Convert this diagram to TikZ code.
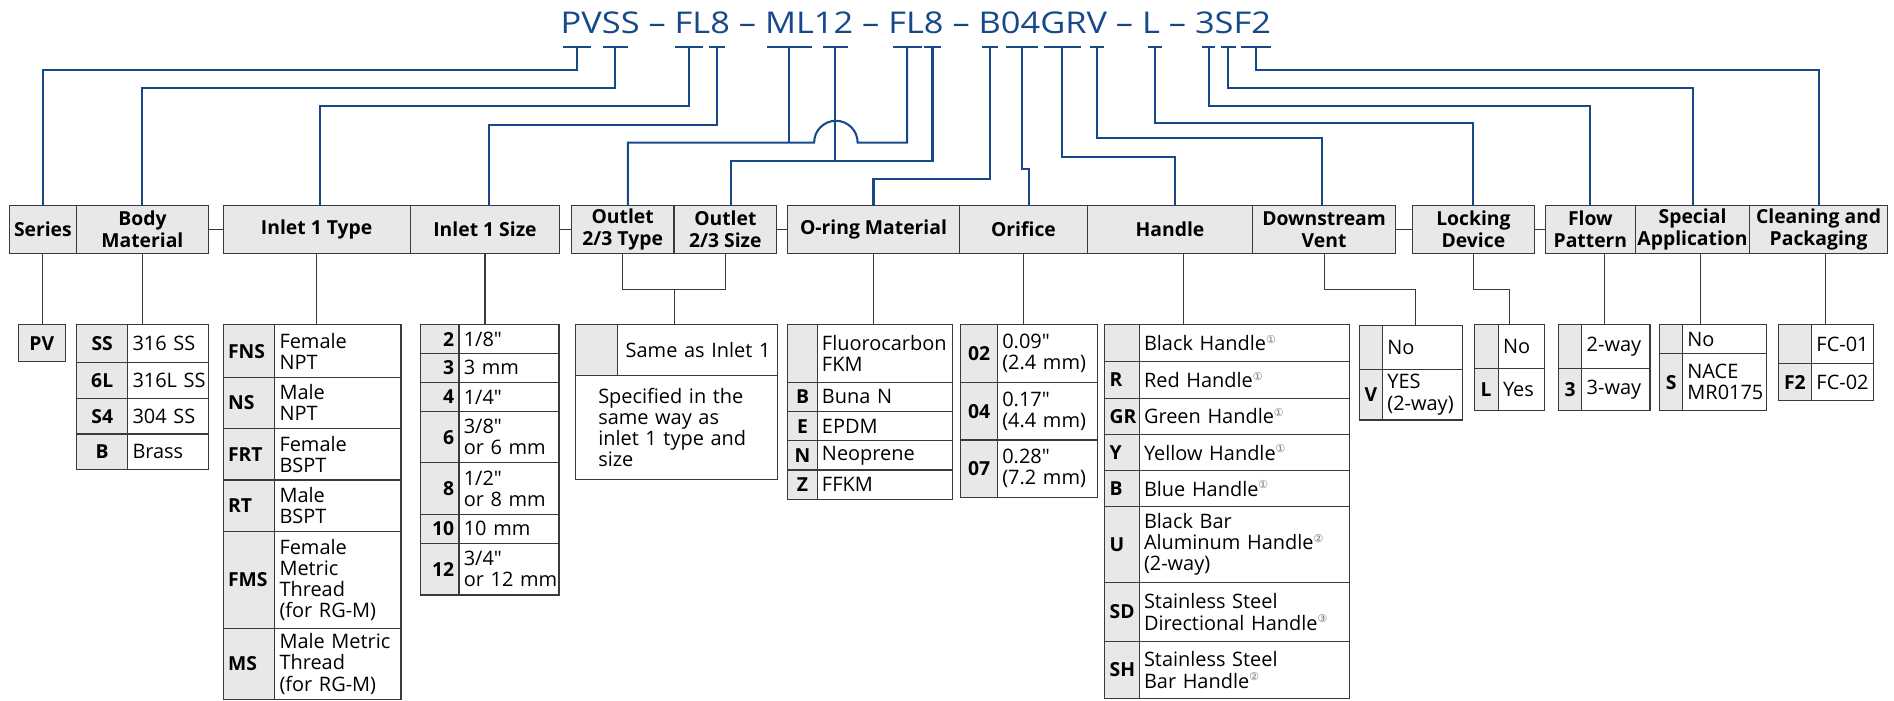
\documentclass[tikz,border=0pt]{standalone}
\usepackage{fontspec}
\setmainfont{Open Sans}[Ligatures=TeXOff]
\newfontfamily\dejavu{DejaVu Sans}
\definecolor{blu}{HTML}{17498A}
\definecolor{bord}{HTML}{3A3A3A}
\definecolor{gfill}{HTML}{E7E8EA}
\newcommand\cnum[1]{\raisebox{6pt}{\fontsize{9}{9}\selectfont\dejavu\color{black!55}#1}}
\newcommand\trow[9]{%
  \pgfmathsetmacro\tcwt{#3-#2-8}%
  \pgfmathsetmacro\tdw{#4-#3-8}%
  \pgfmathsetmacro\trh{#6-#5}%
  \node[codec, text width=\tcwt pt, align=#9, minimum height=\trh pt] (#1c) at ({(#2+#3)/2},{(#5+#6)/2}) {#7};
  \node[descc, text width=\tdw pt, minimum height=\trh pt] (#1d) at ({(#3+#4)/2},{(#5+#6)/2}) {#8};
}
\newcommand\tick[3]{%
  \coordinate (#1) at ({(#2+#3)/2},39);
  \draw[bl] (#2,39) -- (#3,39);
}
\begin{document}
\begin{tikzpicture}[x=1pt,y=-1pt,
  font=\fontsize{16.5}{17.5}\selectfont,
  hdr/.style={draw=bord, fill=gfill, line width=0.9pt, font=\fontsize{16}{18}\selectfont\bfseries, align=center, inner sep=0pt, minimum height=40pt},
  codec/.style={draw=bord, fill=gfill, line width=0.9pt, font=\fontsize{16}{17.5}\selectfont\bfseries, inner xsep=4pt, inner ysep=0pt},
  descc/.style={draw=bord, fill=white, line width=0.9pt, inner xsep=4pt, inner ysep=0pt, align=left},
  bl/.style={draw=blu, line width=1.7pt},
  kl/.style={draw=bord, line width=0.9pt}]
\useasboundingbox (0,0) rectangle (1568,580);

% ---------- title ----------
\node[anchor=base west, inner sep=0pt, text=blu] (title) at (464,27.6)
  {\resizebox{588pt}{18pt}{PVSS – FL8 – ML12 – FL8 – B04GRV – L – 3SF2}};

% ---------- header row ----------
\node[hdr, minimum width=56pt]    (ser)   at (35.5,190)   {Series};
\node[hdr, minimum width=108.8pt] (body)  at (117.9,190)  {Body\\Material};
\node[hdr, minimum width=154.7pt] (itype) at (262.15,190) {Inlet 1 Type};
\node[hdr, minimum width=124pt]   (isize) at (401.5,190)  {Inlet 1 Size};
\node[hdr, minimum width=85pt]    (otype) at (515.5,190)  {Outlet\\2/3 Type};
\node[hdr, minimum width=85pt]    (osize) at (600.5,190)  {Outlet\\2/3 Size};
\node[hdr, minimum width=141.7pt] (oring) at (723.15,190) {O-ring Material};
\node[hdr, minimum width=106.6pt] (orif)  at (847.3,190)  {Orifice};
\node[hdr, minimum width=136.1pt] (hndl)  at (968.65,190) {Handle};
\node[hdr, minimum width=118.9pt] (vent)  at (1096.15,190){Downstream\\Vent};
\node[hdr, minimum width=100.8pt] (lock)  at (1219.8,190) {Locking\\Device};
\node[hdr, minimum width=74.3pt]  (flow)  at (1316.65,190){Flow\\Pattern};
\node[hdr, minimum width=94.8pt]  (spec)  at (1401.2,190) {Special\\Application};
\node[hdr, minimum width=114pt]   (clean) at (1505.6,190) {Cleaning and\\Packaging};

\draw[kl] (body.east) -- (itype.west);
\draw[kl] (isize.east) -- (otype.west);
\draw[kl] (osize.east) -- (oring.west);
\draw[kl] (vent.east) -- (lock.west);
\draw[kl] (lock.east) -- (flow.west);

% ---------- ticks under title ----------
\tick{tPV}{466}{489}
\tick{tSS}{499}{520}
\tick{tFL}{559}{582}
\tick{tE}{587}{600}
\tick{tML}{635}{672}
\tick{tTw}{681}{702}
\tick{tFLb}{739}{763}
\tick{tEb}{765}{779}
\tick{tB}{813}{826}
\tick{tO4}{833}{859}
\tick{tGR}{864}{895}
\tick{tV}{902}{914}
\tick{tL}{950}{962}
\tick{tTh}{995}{1006}
\tick{tS}{1011}{1023}
\tick{tF2}{1027}{1052}

\coordinate (eItype) at ([xshift=3pt]itype.north);
\coordinate (eIsize) at ([xshift=3.5pt]isize.north);
\coordinate (eOtype) at ([xshift=4.3pt]otype.north);
\coordinate (eOsize) at ([xshift=4.5pt]osize.north);
\coordinate (eOrif)  at ([xshift=4.5pt]orif.north);
\coordinate (eHndl)  at ([xshift=4pt]hndl.north);
\coordinate (eVent)  at ([xshift=-2pt]vent.north);

\draw[bl] (tPV) -- (tPV |- 0,58) -| (ser.north);
\draw[bl] (tSS) -- (tSS |- 0,73) -| (body.north);
\draw[bl] (tFL) -- (tFL |- 0,88) -| (eItype);
\draw[bl] (tE) -- (tE |- 0,103.5) -| (eIsize);
\draw[bl] (tFLb) |- (710,118) arc[start angle=0, end angle=180, radius=18pt] -- (eOtype |- 0,118) -- (eOtype);
\draw[bl] (tML) -- (tML |- 0,118);
\draw[bl] (tEb) |- (eOsize |- 0,133) -- (eOsize);
\draw[bl] (tTw) -- (tTw |- 0,133);
\draw[bl] (tB) -- (tB |- 0,148) -| (oring.north);
\draw[bl] (tO4) |- (eOrif |- 0,140) -- (eOrif);
\draw[bl] (tGR) -- (tGR |- 0,130) -| (eHndl);
\draw[bl] (tV) -- (tV |- 0,114.5) -| (eVent);
\draw[bl] (tL) -- (tL |- 0,101.5) -| (lock.north);
\draw[bl] (tTh) -- (tTh |- 0,88) -| (flow.north);
\draw[bl] (tS) -- (tS |- 0,73) -| (spec.north);
\draw[bl] (tF2) -- (tF2 |- 0,58) -| (clean.north);

% ---------- tables ----------
% Series
\node[codec, minimum width=38.8pt, minimum height=30.4pt] (pv) at (34.6,284.2) {PV};

% Body material
\trow{bSS}{63.5}{105.7}{172.3}{269}{300}{SS}{316 SS}{center}
\trow{bSix}{63.5}{105.7}{172.3}{300}{329.8}{6L}{316L~SS}{center}
\trow{bSf}{63.5}{105.7}{172.3}{329.8}{359.3}{S4}{304 SS}{center}
\trow{bB}{63.5}{105.7}{172.3}{359.3}{388.6}{B}{Brass}{center}

% Inlet 1 type
\trow{iFNS}{184.8}{227.4}{332}{269}{312.4}{FNS}{Female\\NPT}{left}
\trow{iNS}{184.8}{227.4}{332}{312.4}{354.6}{NS}{Male\\NPT}{left}
\trow{iFRT}{184.8}{227.4}{332}{354.6}{397.4}{FRT}{Female\\BSPT}{left}
\trow{iRT}{184.8}{227.4}{332}{397.4}{440.2}{RT}{Male\\BSPT}{left}
\trow{iFMS}{184.8}{227.4}{332}{440.2}{520.2}{FMS}{Female\\Metric\\Thread\\(for RG-M)}{left}
\trow{iMS}{184.8}{227.4}{332}{520.2}{579}{MS}{Male Metric\\Thread\\(for RG-M)}{left}

% Inlet 1 size
\trow{sTwo}{348}{380}{462.8}{269}{292.5}{2}{1/8"}{right}
\trow{sThree}{348}{380}{462.8}{292.5}{316.5}{3}{3 mm}{right}
\trow{sFour}{348}{380}{462.8}{316.5}{340.8}{4}{1/4"}{right}
\trow{sSix}{348}{380}{462.8}{340.8}{383}{6}{3/8"\\or 6 mm}{right}
\trow{sEight}{348}{380}{462.8}{383}{425.8}{8}{1/2"\\or 8 mm}{right}
\trow{sTen}{348}{380}{462.8}{425.8}{449.8}{10}{10 mm}{right}
\trow{sTwelve}{348}{380}{462.8}{449.8}{492.6}{12}{3/4"\\or~12~mm}{right}

% Outlet
\trow{outA}{476.3}{511}{644}{269}{310.7}{}{\hspace*{3pt}Same~as~Inlet~1}{center}
\node[descc, inner xsep=19pt, text width=129.7pt, minimum height=86.1pt] (outB) at (560.15,353.75)
  {Specified in the\\same way as\\inlet 1 type and\\size};

% O-ring
\trow{orA}{652.3}{676.5}{788.9}{269}{316.5}{}{Fluorocarbon\\FKM}{center}
\trow{orB}{652.3}{676.5}{788.9}{316.5}{340.8}{B}{Buna N}{center}
\trow{orE}{652.3}{676.5}{788.9}{340.8}{364.8}{E}{EPDM}{center}
\trow{orN}{652.3}{676.5}{788.9}{364.8}{389.1}{N}{Neoprene}{center}
\trow{orZ}{652.3}{676.5}{788.9}{389.1}{413.4}{Z}{FFKM}{center}

% Orifice
\trow{ofA}{795.4}{825.8}{908.6}{269}{316.5}{02}{0.09"\\(2.4 mm)}{center}
\trow{ofB}{795.4}{825.8}{908.6}{316.5}{364.3}{04}{0.17"\\(4.4 mm)}{center}
\trow{ofC}{795.4}{825.8}{908.6}{364.3}{411.7}{07}{0.28"\\(7.2 mm)}{center}

% Handle
\trow{hA}{914.7}{943.1}{1117}{269}{299.4}{}{Black Handle\cnum{①}}{left}
\trow{hR}{914.7}{943.1}{1117}{299.4}{329.8}{R}{Red Handle\cnum{①}}{left}
\trow{hGR}{914.7}{943.1}{1117}{329.8}{359.6}{GR}{Green Handle\cnum{①}}{left}
\trow{hY}{914.7}{943.1}{1117}{359.6}{389.6}{Y}{Yellow Handle\cnum{①}}{left}
\trow{hB}{914.7}{943.1}{1117}{389.6}{419.4}{B}{Blue Handle\cnum{①}}{left}
\trow{hU}{914.7}{943.1}{1117}{419.4}{482.1}{U}{Black Bar\\Aluminum Handle\cnum{②}\\(2-way)}{left}
\trow{hSD}{914.7}{943.1}{1117}{482.1}{531.2}{SD}{Stainless Steel\\Directional Handle\cnum{③}}{left}
\trow{hSH}{914.7}{943.1}{1117}{531.2}{578.1}{SH}{Stainless Steel\\Bar Handle\cnum{②}}{left}

% Downstream vent
\trow{vA}{1125.3}{1144.6}{1210.8}{269.5}{305.8}{}{No}{center}
\trow{vV}{1125.3}{1144.6}{1210.8}{305.8}{347.7}{V}{YES\\(2-way)}{center}

% Locking device
\trow{lA}{1220.4}{1240.3}{1278.4}{269}{304.9}{}{No}{center}
\trow{lL}{1220.4}{1240.3}{1278.4}{304.9}{340}{L}{Yes}{center}

% Flow pattern
\trow{flA}{1290}{1309.6}{1366}{269}{304.9}{}{2-way}{center}
\trow{flB}{1290}{1309.6}{1366}{304.9}{340}{3}{3-way}{center}

% Special application
\trow{spA}{1374}{1393}{1462.3}{269}{293}{}{No}{center}
\trow{spS}{1374}{1393}{1462.3}{293}{340}{S}{NACE\\MR0175}{center}

% Cleaning and packaging
\trow{cA}{1472}{1499.8}{1551}{269}{300.8}{}{\mbox{FC-01}}{center}
\trow{cB}{1472}{1499.8}{1551}{300.8}{331.7}{F2}{\mbox{FC-02}}{center}

% ---------- black connectors header -> tables ----------
\draw[kl] (ser.south) -- (ser.south |- pv.north);
\draw[kl] (body.south) -- (body.south |- bSSc.north);
\draw[kl] (itype.south) -- (itype.south |- iFNSc.north);
\draw[kl] (isize.south) -- (isize.south |- sTwoc.north);
\coordinate (oj) at (558.2,239.3);
\draw[kl] (otype.south) |- (oj) -| (osize.south);
\draw[kl] (oj) -- (oj |- outAc.north);
\draw[kl] (oring.south) -- (oring.south |- orAc.north);
\draw[kl] (orif.south) -- (orif.south |- ofAc.north);
\coordinate (hdrop) at ([xshift=11pt]hndl.south);
\draw[kl] (hdrop) -- (hdrop |- hAc.north);
\coordinate (vj) at (1172.2,239.3);
\draw[kl] (vent.south) |- (vj) -- (vj |- vAd.north);
\coordinate (lj) at (1249.5,239.3);
\draw[kl] (lock.south) |- (lj) -- (lj |- lAd.north);
\coordinate (fdrop) at (1328,210);
\draw[kl] (fdrop) -- (fdrop |- flAd.north);
\coordinate (spdrop) at (1407.6,210);
\draw[kl] (spdrop) -- (spdrop |- spAd.north);
\coordinate (cdrop) at (1511.5,210);
\draw[kl] (cdrop) -- (cdrop |- cAd.north);
\end{tikzpicture}
\end{document}
